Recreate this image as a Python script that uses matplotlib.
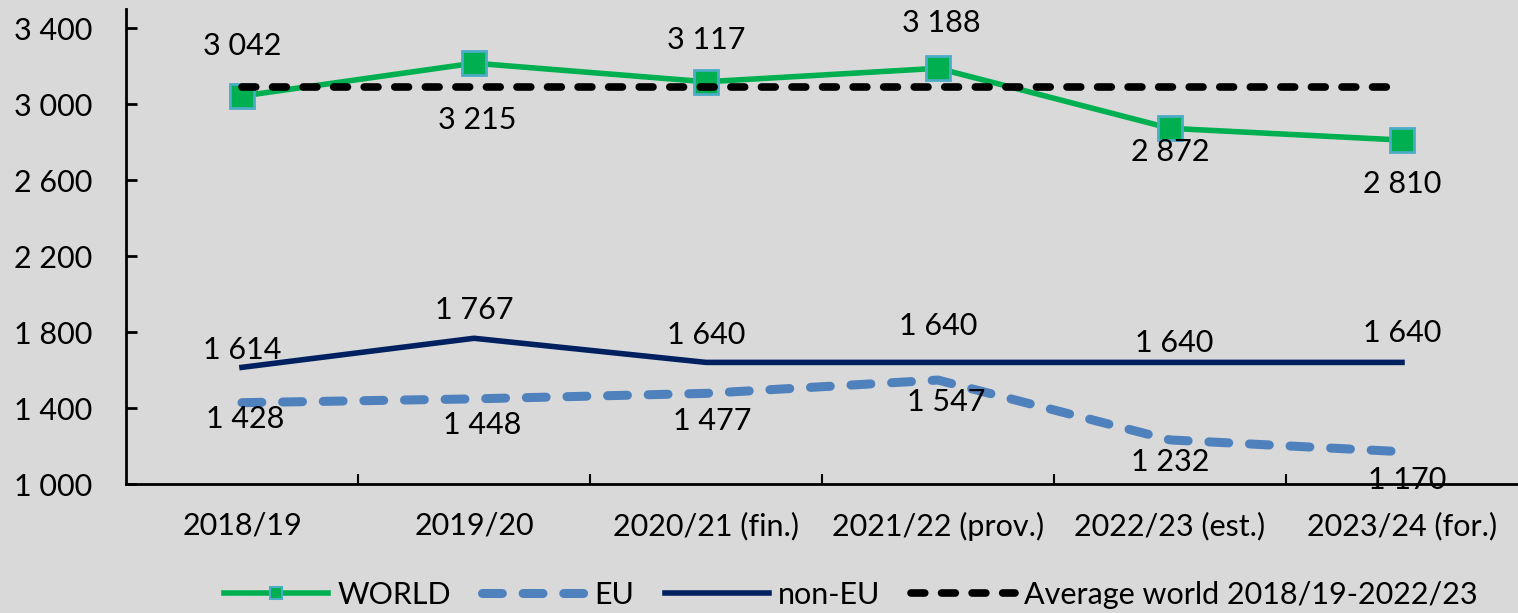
import matplotlib
matplotlib.use("Agg")
import matplotlib.pyplot as plt
from matplotlib.lines import Line2D
from matplotlib import font_manager

# ---------------- data ----------------
categories = ["2018/19", "2019/20", "2020/21 (fin.)", "2021/22 (prov.)",
              "2022/23 (est.)", "2023/24 (for.)"]
world = [3042, 3215, 3117, 3188, 2872, 2810]
eu = [1428, 1448, 1477, 1547, 1232, 1170]
non_eu = [1614, 1767, 1640, 1640, 1640, 1640]
avg_world = 3087
y_ticks = [1000, 1400, 1800, 2200, 2600, 3000, 3400]

# label offsets in pixels (dx, dy), positive dy = up
world_off = [(0, 50), (3, -57), (0, 42), (3, 45), (0, -24), (0, -44)]
noneu_off = [(0, 17), (0, 28), (0, 27), (0, 36), (4, 19), (0, 29)]
eu_off = [(3, -16), (8, -26), (6, -28), (8, -22), (0, -22), (5, -28)]

# ---------------- style ----------------
avail = {f.name for f in font_manager.fontManager.ttflist}
font = "Lato" if "Lato" in avail else "DejaVu Sans"
plt.rcParams["font.family"] = [font, "DejaVu Sans"]
FS = 22
BG = "#d9d9d9"
GREEN = "#00b050"
MEDGE = "#4bacc6"
EUBLUE = "#4f81bd"
NAVY = "#002060"

DPI = 100
fig = plt.figure(figsize=(15.18, 6.13), dpi=DPI, facecolor=BG)
ax = fig.add_axes([126 / 1518, (613 - 484) / 613, (1518 - 126) / 1518, (484 - 9) / 613])
ax.set_facecolor(BG)

x = list(range(len(categories)))
px = 72 / DPI  # pixels -> points

ax.plot([x[0], x[-1]], [avg_world, avg_world], color="black", lw=5.5,
        linestyle=(0, (1.8, 2.2)), dash_capstyle="round", zorder=4,
        label="Average world 2018/19-2022/23")
ax.plot(x, eu, color=EUBLUE, lw=6.5, linestyle=(0, (2.2, 2.3)),
        dash_capstyle="round", zorder=2, label="EU")
ax.plot(x, non_eu, color=NAVY, lw=4, zorder=2, label="non-EU")
ax.plot(x, world, color=GREEN, lw=4, marker="s", markersize=17,
        markerfacecolor=GREEN, markeredgecolor=MEDGE, markeredgewidth=2,
        zorder=3, label="WORLD")


def fmt(v):
    return f"{v:,}".replace(",", " ")


for series, offs in ((world, world_off), (non_eu, noneu_off), (eu, eu_off)):
    for xi, v, (dx, dy) in zip(x, series, offs):
        ax.annotate(fmt(v), (xi, v), xytext=(dx * px, dy * px),
                    textcoords="offset points", ha="center", va="center",
                    fontsize=FS, color="black", zorder=6)

ax.set_xlim(-0.5, 5.5)
ax.set_ylim(1000, 3500)
ax.set_yticks(y_ticks)
ax.set_yticklabels([fmt(v) for v in y_ticks])
ax.set_xticks(x)
ax.set_xticklabels(categories)
ax.set_xticks([i + 0.5 for i in range(len(categories) - 1)], minor=True)

ax.tick_params(axis="y", direction="in", length=8, width=2, labelsize=FS,
               pad=24, colors="black")
ax.tick_params(axis="x", which="major", length=0, labelsize=FS, pad=20)
ax.tick_params(axis="x", which="minor", direction="in", length=7, width=1.5)

for s in ("top", "right"):
    ax.spines[s].set_visible(False)
for s in ("left", "bottom"):
    ax.spines[s].set_linewidth(2)
    ax.spines[s].set_color("black")

handles = [
    Line2D([], [], color=GREEN, lw=4, marker="s", markersize=9,
           markerfacecolor=GREEN, markeredgecolor=MEDGE, markeredgewidth=1.5),
    Line2D([], [], color=EUBLUE, lw=6.5, linestyle=(0, (2.2, 2.3)),
           dash_capstyle="round"),
    Line2D([], [], color=NAVY, lw=4),
    Line2D([], [], color="black", lw=5.5, linestyle=(0, (1.8, 2.2)),
           dash_capstyle="round"),
]
labels = ["WORLD", "EU", "non-EU", "Average world 2018/19-2022/23"]
fig.legend(handles, labels, loc="center", bbox_to_anchor=(851 / 1518, 1 - 595 / 613),
           ncol=4, frameon=False, fontsize=FS, handlelength=3.4,
           handletextpad=0.3, columnspacing=1.0, borderpad=0)

fig.savefig("out.png", dpi=DPI, facecolor=BG)
